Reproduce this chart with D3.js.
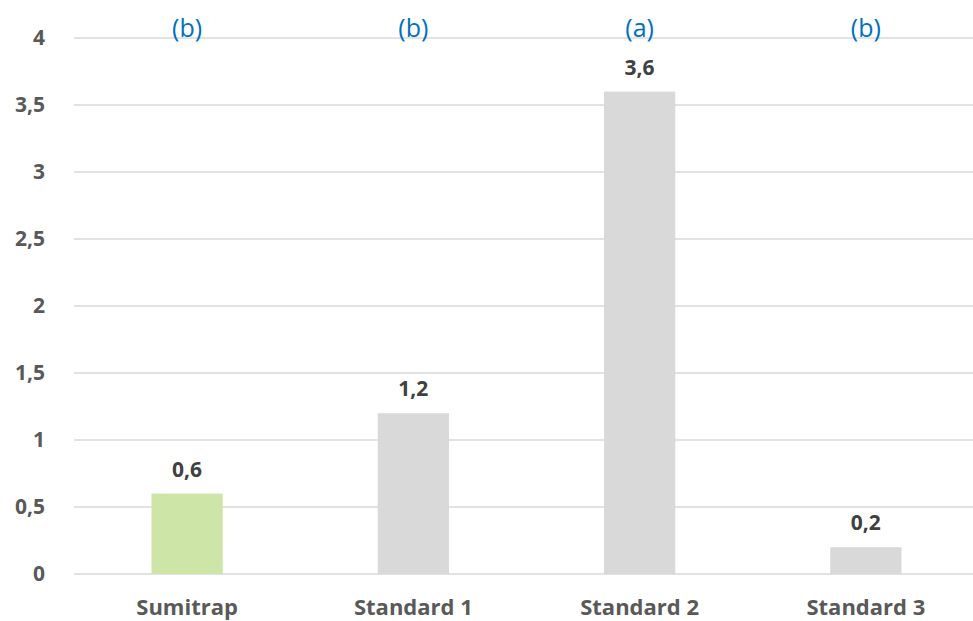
<!DOCTYPE html>
<html>
<head>
<meta charset="utf-8">
<title>bar chart</title>
<script src="https://d3js.org/d3.v7.min.js"></script>
<style>
  body { margin: 0; background: #fff; }
  text { font-family: "Open Sans", Lato, sans-serif; }
</style>
</head>
<body>
<div id="wrapper"></div>
<script>
const categories = ["Sumitrap", "Standard 1", "Standard 2", "Standard 3"];
const values = [0.6, 1.2, 3.6, 0.2];
const groups = ["(b)", "(b)", "(a)", "(b)"];
const yTicks = [0, 0.5, 1, 1.5, 2, 2.5, 3, 3.5, 4];

const dimensions = {
  width: 973,
  height: 621,
  margin: { top: 38, right: -6, bottom: 47, left: 74 }
};
dimensions.boundedWidth = dimensions.width - dimensions.margin.left - dimensions.margin.right;
dimensions.boundedHeight = dimensions.height - dimensions.margin.top - dimensions.margin.bottom;

const fmt = v => String(v).replace(".", ",");

const wrapper = d3.select("#wrapper").append("svg")
  .attr("width", dimensions.width)
  .attr("height", dimensions.height);

const bounds = wrapper.append("g")
  .attr("transform", `translate(${dimensions.margin.left},${dimensions.margin.top})`);

const xScale = d3.scaleBand().domain(categories).range([0, dimensions.boundedWidth]).padding(0);
const yScale = d3.scaleLinear().domain([0, 4]).range([dimensions.boundedHeight, 0]);
const barWidth = xScale.bandwidth() * 0.315;

// gridlines
bounds.append("g").selectAll("line").data(yTicks).join("line")
  .attr("x1", 0).attr("x2", dimensions.boundedWidth)
  .attr("y1", d => yScale(d)).attr("y2", d => yScale(d))
  .attr("stroke", "#d9d9d9").attr("stroke-width", 1.3);

// y axis labels
const yAxis = bounds.append("g")
  .call(d3.axisLeft(yScale).tickValues(yTicks).tickFormat(fmt).tickSize(0).tickPadding(29));
yAxis.select(".domain").remove();
yAxis.selectAll("text")
  .attr("fill", "#595959").style("font-size", "21px").style("font-weight", "bold");

// bars
bounds.selectAll("rect").data(values).join("rect")
  .attr("x", (d, i) => xScale(categories[i]) + xScale.bandwidth() / 2 - barWidth / 2)
  .attr("width", barWidth)
  .attr("y", d => yScale(d))
  .attr("height", d => dimensions.boundedHeight - yScale(d))
  .attr("fill", (d, i) => i === 0 ? "#cde6a7" : "#d9d9d9");

// value labels
bounds.append("g").selectAll("text").data(values).join("text")
  .attr("x", (d, i) => xScale(categories[i]) + xScale.bandwidth() / 2)
  .attr("y", d => yScale(d) - 17)
  .attr("text-anchor", "middle")
  .attr("fill", "#404040").style("font-size", "21px").style("font-weight", "bold")
  .text(fmt);

// group letters
bounds.append("g").selectAll("text").data(groups).join("text")
  .attr("x", (d, i) => xScale(categories[i]) + xScale.bandwidth() / 2)
  .attr("y", -1)
  .attr("text-anchor", "middle")
  .attr("fill", "#0070c0").style("font-size", "25px")
  .text(d => d);

// x axis labels
const xAxis = bounds.append("g")
  .attr("transform", `translate(0,${dimensions.boundedHeight})`)
  .call(d3.axisBottom(xScale).tickSize(0).tickPadding(25));
xAxis.select(".domain").remove();
xAxis.selectAll("text")
  .attr("fill", "#595959").style("font-size", "22px").style("font-weight", "bold");
</script>
</body>
</html>
